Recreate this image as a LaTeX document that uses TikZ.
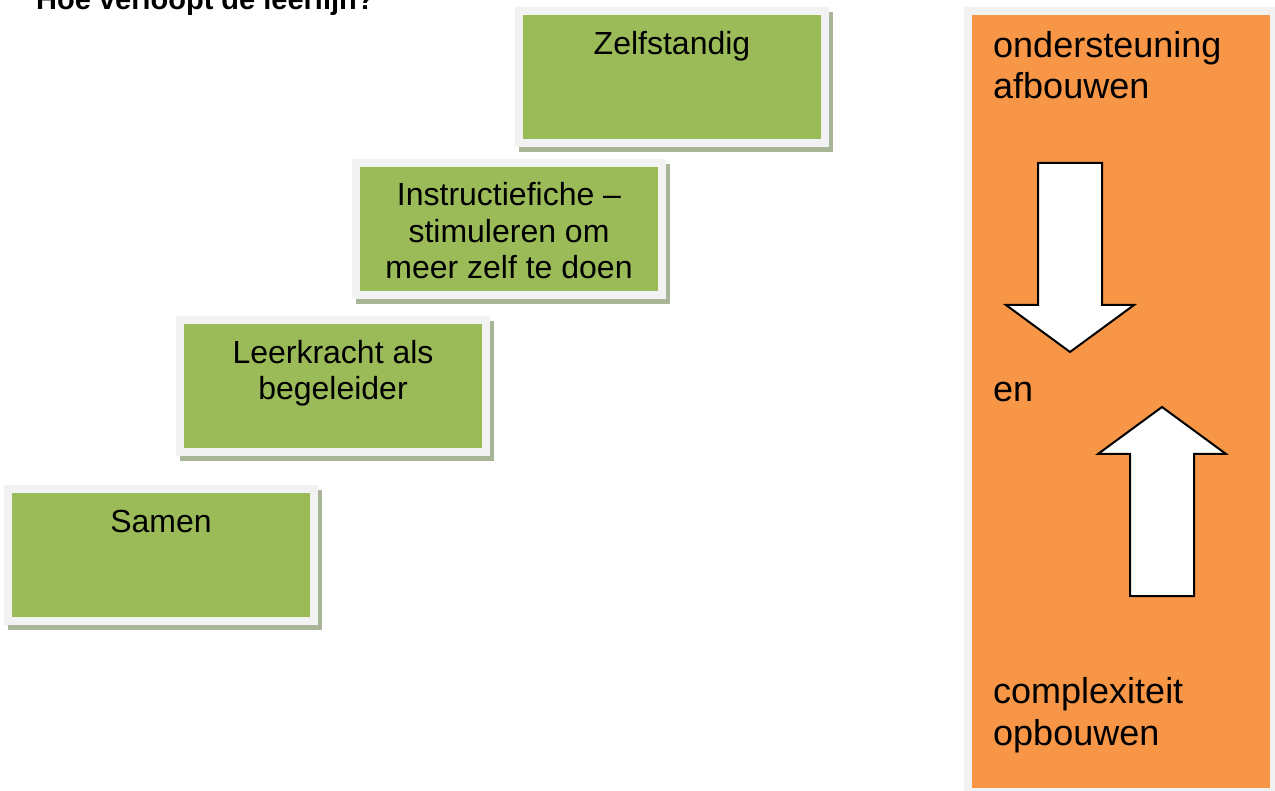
\documentclass[tikz,border=0pt]{standalone}
\usepackage{fontspec}
\setmainfont{Liberation Sans}
\definecolor{stepgreen}{HTML}{9BBB59}
\definecolor{framegrey}{HTML}{F2F2F2}
\definecolor{shadowgreen}{HTML}{A9B597}
\definecolor{orangecol}{HTML}{F79646}
\newcommand{\stepbox}[2]{%
  \fill[shadowgreen] (#1-4,#2-3) rectangle (#1+310,#2+137);
  \fill[framegrey] (#1-8,#2-8) rectangle (#1+306,#2+132);
  \fill[stepgreen] (#1,#2) rectangle (#1+298,#2+124);}
\begin{document}
\begin{tikzpicture}[x=1pt,y=-1pt,
  greentext/.style={font=\fontsize{32}{36.8}\selectfont, align=center, anchor=base, inner sep=0pt},
  orangetext/.style={font=\fontsize{36}{41.4}\selectfont, align=left, anchor=base west, inner sep=0pt},
  arrowshape/.style={draw=black, line width=2pt, fill=white, line join=miter}]
\useasboundingbox (0,0) rectangle (1275,791);
% title
\node[font=\fontsize{29}{33}\selectfont\bfseries, anchor=base west, inner sep=0pt] (title) at (36,10) {Hoe verloopt de leerlijn?};
% steps
\stepbox{523}{15}
\stepbox{360}{167}
\stepbox{184}{324}
\stepbox{12}{493}
% multi-line nodes are anchored at the baseline of their last line
\node[greentext] (zelf) at (672,54.5) {Zelfstandig};
\node[greentext] (instr) at (509,279) {Instructiefiche --\\stimuleren om\\meer zelf te doen};
\node[greentext] (leer) at (333,400) {Leerkracht als\\begeleider};
\node[greentext] (samen) at (161,532) {Samen};
% orange column
\fill[framegrey] (964,7) rectangle (1285,800);
\fill[orangecol] (972,15) rectangle (1270,788);
\node[orangetext] (ond) at (993,99) {ondersteuning\\afbouwen};
\node[orangetext] (en) at (993,402) {en};
\node[orangetext] (comp) at (993,745) {complexiteit\\opbouwen};
% arrows
\draw[arrowshape] (1038,163) -- (1102,163) -- (1102,305) -- (1134,305) -- (1070,352) -- (1006,305) -- (1038,305) -- cycle;
\draw[arrowshape] (1130,596) -- (1194,596) -- (1194,454) -- (1226,454) -- (1162,407) -- (1098,454) -- (1130,454) -- cycle;
\end{tikzpicture}
\end{document}
